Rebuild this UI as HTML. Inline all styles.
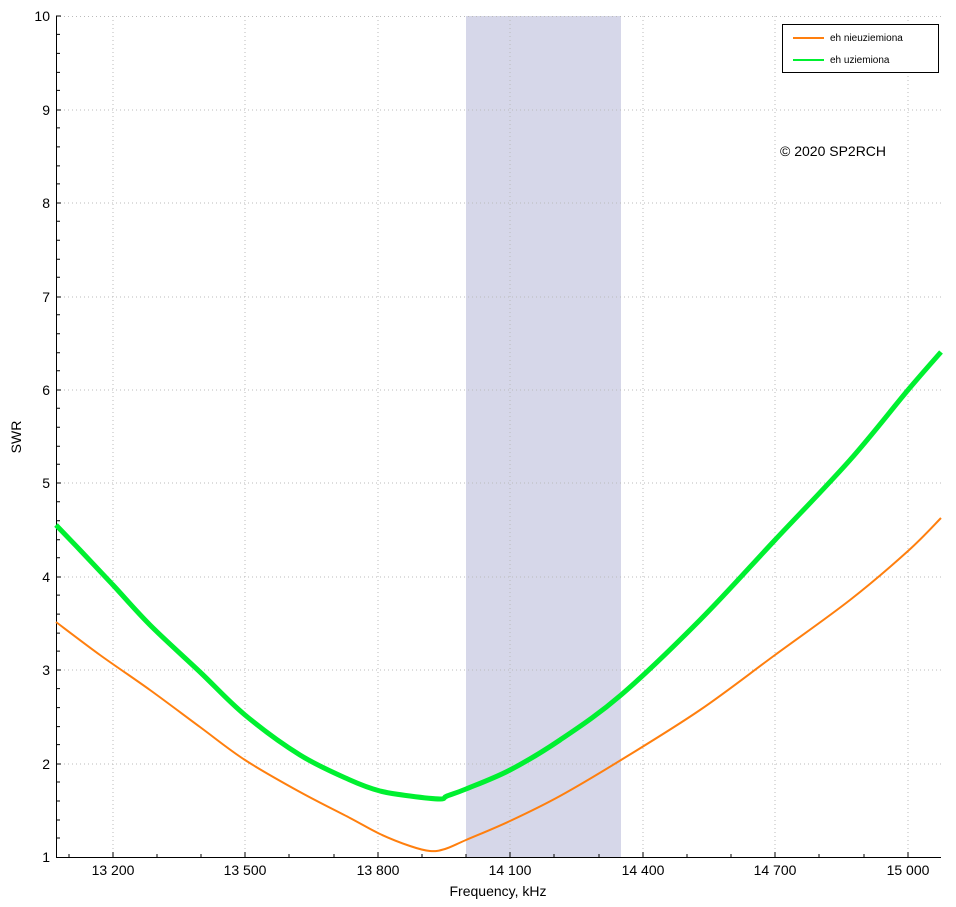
<!DOCTYPE html>
<html><head><meta charset="utf-8"><style>
body{margin:0;background:#fff;}
svg{display:block;font-family:"Liberation Sans",sans-serif;}
</style></head><body>
<svg width="956" height="907" viewBox="0 0 956 907">
<rect x="466" y="16" width="155" height="841" fill="#d6d7e9"/>
<g stroke="#bbb" stroke-width="1" stroke-dasharray="1,3">
<line x1="113" y1="16" x2="113" y2="857"/><line x1="245" y1="16" x2="245" y2="857"/>
<line x1="378" y1="16" x2="378" y2="857"/><line x1="510" y1="16" x2="510" y2="857"/>
<line x1="643" y1="16" x2="643" y2="857"/><line x1="775" y1="16" x2="775" y2="857"/>
<line x1="908" y1="16" x2="908" y2="857"/>
<line x1="56" y1="16.5" x2="941" y2="16.5"/><line x1="56" y1="110" x2="941" y2="110"/>
<line x1="56" y1="203" x2="941" y2="203"/><line x1="56" y1="297" x2="941" y2="297"/>
<line x1="56" y1="390" x2="941" y2="390"/><line x1="56" y1="483" x2="941" y2="483"/>
<line x1="56" y1="577" x2="941" y2="577"/><line x1="56" y1="670" x2="941" y2="670"/>
<line x1="56" y1="764" x2="941" y2="764"/>
</g>
<g stroke="#000" stroke-width="1">
<line x1="56.5" y1="16" x2="56.5" y2="857"/><line x1="56" y1="857.5" x2="941" y2="857.5"/>
<path d="M113 857v-5M245 857v-5M378 857v-5M510 857v-5M643 857v-5M775 857v-5M908 857v-5M69 857v-3M157 857v-3M201 857v-3M289 857v-3M334 857v-3M422 857v-3M466 857v-3M554 857v-3M599 857v-3M687 857v-3M731 857v-3M819 857v-3M864 857v-3"/>
<path d="M56 16h5M56 110h5M56 203h5M56 297h5M56 390h5M56 483h5M56 577h5M56 670h5M56 764h5"/>
<path id="mt" d="M56 838h4M56 820h4M56 801h4M56 782h4"/>
<use href="#mt" y="-93.4"/><use href="#mt" y="-186.9"/><use href="#mt" y="-280.3"/><use href="#mt" y="-373.8"/><use href="#mt" y="-467.2"/><use href="#mt" y="-560.7"/><use href="#mt" y="-654.1"/><use href="#mt" y="-747.6"/>
</g>
<g font-size="14" fill="#000" text-anchor="end">
<text x="50" y="21">10</text><text x="50" y="115">9</text><text x="50" y="208">8</text>
<text x="50" y="302">7</text><text x="50" y="395">6</text><text x="50" y="488">5</text>
<text x="50" y="582">4</text><text x="50" y="675">3</text><text x="50" y="769">2</text><text x="50" y="862">1</text>
</g>
<g font-size="14" fill="#000" text-anchor="middle">
<text x="113" y="875">13 200</text><text x="245" y="875">13 500</text><text x="378" y="875">13 800</text>
<text x="510" y="875">14 100</text><text x="643" y="875">14 400</text><text x="775" y="875">14 700</text>
<text x="908" y="875">15 000</text>
<text x="498" y="896">Frequency, kHz</text>
<text transform="translate(21,437) rotate(-90)">SWR</text>
</g>
<text x="780" y="156" font-size="14" fill="#000">© 2020 SP2RCH</text>
<path id="o" fill="none" stroke="#ff7f0e" stroke-width="2" stroke-linejoin="round" d=""/>
<path id="g" fill="none" stroke="#00f030" stroke-width="5" stroke-linejoin="round" d=""/>
<rect x="782.5" y="24.5" width="156" height="48" fill="#fff" stroke="#000"/>
<line x1="793" y1="38" x2="824" y2="38" stroke="#ff7f0e" stroke-width="2"/>
<line x1="793" y1="60" x2="824" y2="60" stroke="#00f030" stroke-width="2"/>
<text x="830" y="41" font-size="10" fill="#000">eh nieuziemiona</text>
<text x="830" y="63" font-size="10" fill="#000">eh uziemiona</text>
</svg>
<script>
function cr(p){var d="M"+p[0][0]+" "+p[0][1];for(var i=0;i<p.length-1;i++){var a=p[i-1]||p[i],b=p[i],c=p[i+1],e=p[i+2]||c;d+="C"+(b[0]+(c[0]-a[0])/6)+" "+(b[1]+(c[1]-a[1])/6)+" "+(c[0]-(e[0]-b[0])/6)+" "+(c[1]-(e[1]-b[1])/6)+" "+c[0]+" "+c[1];}return d;}
document.getElementById("o").setAttribute("d",cr([[56,622],[100,655],[150,690],[200,727],[245,760],[300,792],[350,818],[380,834],[410,846],[430,851],[445,849],[466,840],[510,821],[560,796],[621,760],[700,710],[775,655],[850,600],[908,551],[941,518]]));
document.getElementById("g").setAttribute("d",cr([[56,525],[80,550],[113,585],[150,625],[200,672],[245,715],[300,755],[350,780],[380,791],[410,796],[440,799],[447,796],[466,789],[510,770],[560,740],[621,695],[700,620],[775,540],[850,460],[908,390],[941,352]]));
</script>
</body></html>
